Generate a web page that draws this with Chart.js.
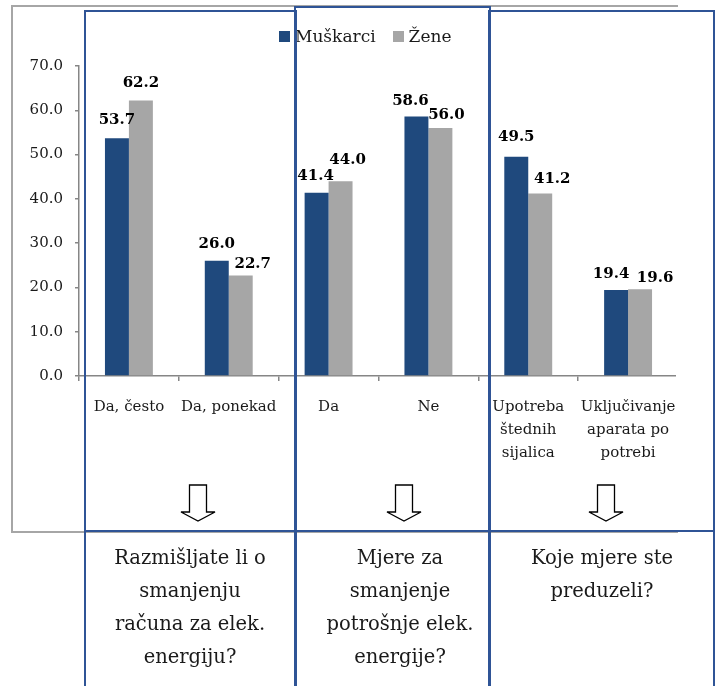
<!DOCTYPE html>
<html>
<head>
<meta charset="utf-8">
<script src="https://cdn.jsdelivr.net/npm/chart.js@4.4.0/dist/chart.umd.min.js"></script>
<style>
    body { margin: 0; background: #fff; width: 715px; height: 686px; overflow: hidden; position: relative; font-family: "DejaVu Serif", serif; color: #1a1a1a; }
    #frame { position: absolute; left: 11px; top: 5px; width: 665px; height: 524px; border: 2px solid #a6a6a6; border-right: none; }
    #clip { position: absolute; left: 0; top: 0; width: 676px; height: 531px; overflow: hidden; }
    #chart { position: absolute; left: 0; top: 0; }
    .box { position: absolute; border: 2px solid #2f5496; box-sizing: border-box; }
    #legend { position: absolute; left: 279px; top: 26px; display: flex; align-items: center; font-size: 17px; }
    #legend .sw { width: 11px; height: 11px; margin-right: 5px; }
    #legend .item { display: flex; align-items: center; margin-right: 17px; }
    .question { position: absolute; top: 541px; text-align: center; font-size: 19.5px; line-height: 33px; }
    #arrows { position: absolute; left: 0; top: 0; }
</style>
</head>
<body>
<div id="frame"></div>
<div id="clip"><canvas id="chart" width="715" height="531"></canvas></div>
<div id="legend"></div>

<div class="box" style="left:84px; top:10px; width:213px; height:690px;"></div>
<div class="box" style="left:294px; top:6px; width:197px; height:690px;"></div>
<div class="box" style="left:488px; top:10px; width:227px; height:690px;"></div>
<div class="box" style="left:84px; top:530px; width:631px; height:2px; border-width:1px;"></div>

<svg id="arrows" width="715" height="686"></svg>

<div class="question" style="left:90px; width:200px;">Razmišljate li o<br>smanjenju<br>računa za elek.<br>energiju?</div>
<div class="question" style="left:300px; width:200px;">Mjere za<br>smanjenje<br>potrošnje elek.<br>energije?</div>
<div class="question" style="left:502px; width:200px;">Koje mjere ste<br>preduzeli?</div>

<script>
// podaci
const categories = [
    "Da, često",
    "Da, ponekad",
    "Da",
    "Ne",
    ["Upotreba", "štednih", "sijalica"],
    ["Uključivanje", "aparata po", "potrebi"]
];
const seriesNames = ["Muškarci", "Žene"];
const muskarci = [53.7, 26.0, 41.4, 58.6, 49.5, 19.4];
const zene = [62.2, 22.7, 44.0, 56.0, 41.2, 19.6];
const seriesColors = ["#1f497d", "#a6a6a6"];
const yTicks = [0, 10, 20, 30, 40, 50, 60, 70];

// pomak natpisa vrijednosti [dx, razmak iznad stupca]
const labelNudge = [
    [[0, 14], [0, 13], [-1, 13], [-6, 11], [0, 16], [-5, 12]],
    [[0, 14], [12, 7], [7, 17], [6, 9], [12, 11], [15, 7]]
];

// legenda
const legendEl = document.getElementById("legend");
seriesNames.forEach((name, i) => {
    const item = document.createElement("div");
    item.className = "item";
    const sw = document.createElement("div");
    sw.className = "sw";
    sw.style.background = seriesColors[i];
    const txt = document.createElement("span");
    txt.textContent = name;
    item.appendChild(sw);
    item.appendChild(txt);
    legendEl.appendChild(item);
});

// strelice
const arrowCenters = [198, 404, 606];
const svg = document.getElementById("arrows");
arrowCenters.forEach(c => {
    const p = document.createElementNS("http://www.w3.org/2000/svg", "polygon");
    const pts = [
        [c - 8.5, 485], [c + 8.5, 485], [c + 8.5, 512], [c + 17, 512],
        [c, 521], [c - 17, 512], [c - 8.5, 512]
    ];
    p.setAttribute("points", pts.map(q => q.join(",")).join(" "));
    p.setAttribute("fill", "#fff");
    p.setAttribute("stroke", "#000");
    p.setAttribute("stroke-width", "1.3");
    svg.appendChild(p);
});

const valueLabels = {
    id: "valueLabels",
    afterDatasetsDraw(chart) {
        const ctx = chart.ctx;
        ctx.save();
        ctx.font = "bold 15px 'DejaVu Serif'";
        ctx.fillStyle = "#000";
        ctx.textAlign = "center";
        ctx.textBaseline = "alphabetic";
        chart.data.datasets.forEach((ds, i) => {
            chart.getDatasetMeta(i).data.forEach((bar, j) => {
                const [dx, gap] = labelNudge[i][j];
                ctx.fillText(ds.data[j].toFixed(1), bar.x + dx, bar.y - gap);
            });
        });
        ctx.restore();
    }
};

const axisColor = "#868686";

new Chart(document.getElementById("chart").getContext("2d"), {
    type: "bar",
    data: {
        labels: categories,
        datasets: [
            { label: seriesNames[0], data: muskarci, backgroundColor: seriesColors[0] },
            { label: seriesNames[1], data: zene, backgroundColor: seriesColors[1] }
        ]
    },
    options: {
        responsive: false,
        animation: false,
        layout: { padding: { left: 1, right: 37, top: 66, bottom: 0 } },
        datasets: { bar: { categoryPercentage: 0.48, barPercentage: 1 } },
        plugins: {
            legend: { display: false },
            tooltip: { enabled: false }
        },
        scales: {
            x: {
                offset: true,
                border: { color: axisColor, width: 1.5 },
                grid: { offset: true, drawOnChartArea: false, tickLength: 5, color: axisColor, lineWidth: 1.5 },
                ticks: {
                    autoSkip: false, maxRotation: 0, minRotation: 0, padding: 14,
                    color: "#1a1a1a",
                    font: { family: "'DejaVu Serif'", size: 15, lineHeight: 1.55 }
                },
                afterFit(scale) { scale.height = 155; }
            },
            y: {
                min: 0,
                max: 70,
                afterBuildTicks(scale) { scale.ticks = yTicks.map(v => ({ value: v })); },
                border: { color: axisColor, width: 1.5 },
                grid: { drawOnChartArea: false, tickLength: 4, color: axisColor, lineWidth: 1.5 },
                ticks: {
                    padding: 12,
                    color: "#1a1a1a",
                    font: { family: "'DejaVu Serif'", size: 15 },
                    callback: v => Number(v).toFixed(1)
                },
                afterFit(scale) { scale.width = 78; }
            }
        }
    },
    plugins: [valueLabels]
});
</script>
</body>
</html>
